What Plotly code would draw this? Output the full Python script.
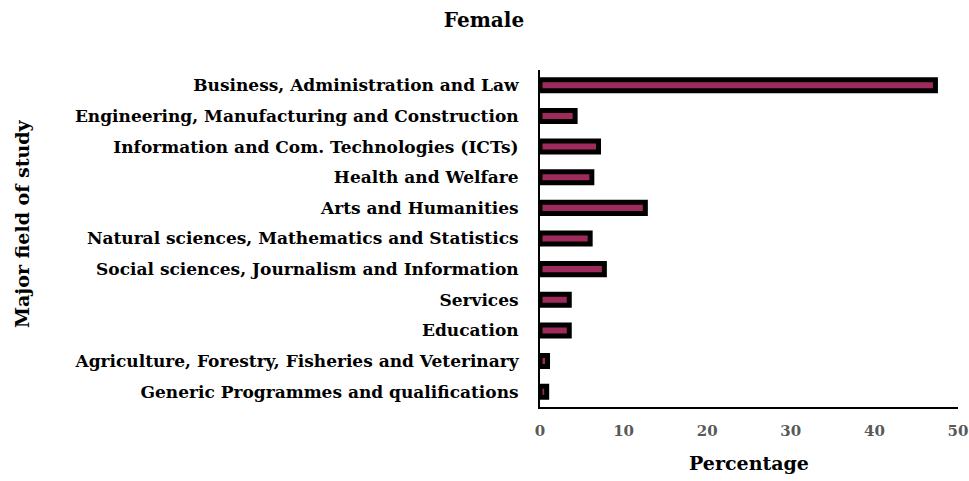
'''
Horizontal bar chart of major field of study (female)
'''

import plotly.graph_objects as go

fields = [
    'Business, Administration and Law',
    'Engineering, Manufacturing and Construction',
    'Information and Com. Technologies (ICTs)',
    'Health and Welfare',
    'Arts and Humanities',
    'Natural sciences, Mathematics and Statistics',
    'Social sciences, Journalism and Information',
    'Services',
    'Education',
    'Agriculture, Forestry, Fisheries and Veterinary',
    'Generic Programmes and qualifications',
]
female_pct = [47.3, 4.2, 7.0, 6.2, 12.6, 6.0, 7.7, 3.5, 3.5, 0.9, 0.8]

x_ticks = [0, 10, 20, 30, 40, 50]

serif = 'DejaVu Serif'

W, H = 969, 481
L, R, T, B = 540, 11, 70, 74

fig = go.Figure(go.Bar(
    x=female_pct,
    y=fields,
    orientation='h',
    width=0.36,
    marker=dict(color='#9E2B5B', line=dict(color='black', width=5)),
))

fig.update_layout(
    width=W, height=H,
    margin=dict(l=L, r=R, t=T, b=B, autoexpand=False),
    paper_bgcolor='white', plot_bgcolor='white',
    showlegend=False,
    font=dict(family=serif),
    title=dict(text='<b>Female</b>', x=484 / W, xref='container', xanchor='center',
               y=1 - 20 / H, yref='container', yanchor='middle',
               font=dict(size=20, color='black', family=serif)),
    xaxis=dict(
        range=[0, 50], tickvals=x_ticks, showgrid=False, zeroline=False,
        showline=True, linecolor='black', linewidth=2, automargin=False,
        ticks='', tickfont=dict(size=15, color='#595959', family=serif, weight='bold'),
        ticklabelstandoff=9, ticklabeloverflow='allow',
        title=dict(text='<b>Percentage</b>', font=dict(size=19, color='black', family=serif),
                   standoff=18),
    ),
    yaxis=dict(
        autorange='reversed', showgrid=False, zeroline=False,
        showline=True, linecolor='black', linewidth=2, automargin=False,
        ticks='', ticklabelstandoff=16,
        tickfont=dict(size=17, color='black', family=serif, weight='bold'),
    ),
    annotations=[dict(
        text='<b>Major field of study</b>', textangle=-90,
        x=(22 - L) / (W - L - R), xref='paper', xanchor='center',
        y=(H - B - 224) / (H - B - T), yref='paper', yanchor='middle', showarrow=False,
        font=dict(size=19, color='black', family=serif),
    )],
)

# drop the default page margin so the figure sits at the window's corner
fig.write_html('out.html', config={'displayModeBar': False},
               post_script="document.body.style.margin='0';")
